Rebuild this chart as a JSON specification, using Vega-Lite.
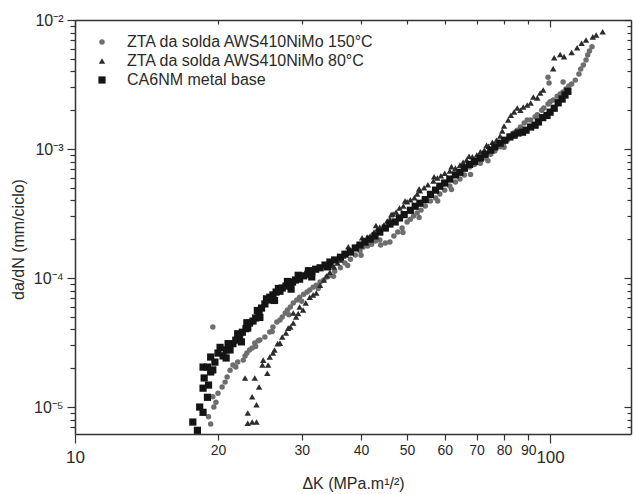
{
"$schema": "https://vega.github.io/schema/vega-lite/v6.json",
"width": 556, "height": 414,
"autosize": {"type": "none"},
"padding": {"left": 75, "top": 20, "right": 2, "bottom": 60},
"background": "white",
"config": {"font": "Liberation Sans", "view": {"stroke": null},
  "axis": {"grid": false, "domainColor": "#333333", "domainWidth": 1.5, "tickColor": "#333333", "tickWidth": 1.2, "labelColor": "#2a2a2a", "titleColor": "#2a2a2a", "labelFont": "Liberation Sans", "titleFont": "Liberation Sans", "titleFontWeight": "normal"},
  "legend": {"labelFont": "Liberation Sans", "labelColor": "#2a2a2a", "labelLimit": 0}},
"data": {"values": [
{"s":"150","dK":19.5,"dadN":4.17e-5},
{"s":"150","dK":19.1,"dadN":8.4e-6},
{"s":"150","dK":19.3,"dadN":7.4e-6},
{"s":"150","dK":19.6,"dadN":1.0e-5},
{"s":"150","dK":19.8,"dadN":1.09e-5},
{"s":"150","dK":19.5,"dadN":1.2e-5},
{"s":"150","dK":20.0,"dadN":1.28e-5},
{"s":"150","dK":20.4,"dadN":1.43e-5},
{"s":"150","dK":20.7,"dadN":1.56e-5},
{"s":"150","dK":20.9,"dadN":1.71e-5},
{"s":"150","dK":21.2,"dadN":1.93e-5},
{"s":"150","dK":21.5,"dadN":2.12e-5},
{"s":"150","dK":21.8,"dadN":2.04e-5},
{"s":"150","dK":22.0,"dadN":2.23e-5},
{"s":"150","dK":22.6,"dadN":2.31e-5},
{"s":"150","dK":22.8,"dadN":2.49e-5},
{"s":"150","dK":23.0,"dadN":2.62e-5},
{"s":"150","dK":23.3,"dadN":2.77e-5},
{"s":"150","dK":23.6,"dadN":2.87e-5},
{"s":"150","dK":23.9,"dadN":3.14e-5},
{"s":"150","dK":24.3,"dadN":3.26e-5},
{"s":"150","dK":24.5,"dadN":3.31e-5},
{"s":"150","dK":25.1,"dadN":3.49e-5},
{"s":"150","dK":25.7,"dadN":3.81e-5},
{"s":"150","dK":26.1,"dadN":4.17e-5},
{"s":"150","dK":26.6,"dadN":4.56e-5},
{"s":"150","dK":27.0,"dadN":4.72e-5},
{"s":"150","dK":27.3,"dadN":4.98e-5},
{"s":"150","dK":27.7,"dadN":5.35e-5},
{"s":"150","dK":28.0,"dadN":5.65e-5},
{"s":"150","dK":28.4,"dadN":5.96e-5},
{"s":"150","dK":28.8,"dadN":6.4e-5},
{"s":"150","dK":29.3,"dadN":6.75e-5},
{"s":"150","dK":29.7,"dadN":7.1e-5},
{"s":"150","dK":30.3,"dadN":7.5e-5},
{"s":"150","dK":30.8,"dadN":7.8e-5},
{"s":"150","dK":31.2,"dadN":8.07e-5},
{"s":"150","dK":31.7,"dadN":8.5e-5},
{"s":"150","dK":32.2,"dadN":8.8e-5},
{"s":"150","dK":32.8,"dadN":9.3e-5},
{"s":"150","dK":33.4,"dadN":9.65e-5},
{"s":"150","dK":33.9,"dadN":1.02e-4},
{"s":"150","dK":34.4,"dadN":1.05e-4},
{"s":"150","dK":35.2,"dadN":1.13e-4},
{"s":"150","dK":36.2,"dadN":1.2e-4},
{"s":"150","dK":37.0,"dadN":1.31e-4},
{"s":"150","dK":38.0,"dadN":1.40e-4},
{"s":"150","dK":38.9,"dadN":1.51e-4},
{"s":"150","dK":39.8,"dadN":1.62e-4},
{"s":"150","dK":40.4,"dadN":1.74e-4},
{"s":"150","dK":41.3,"dadN":1.77e-4},
{"s":"150","dK":42.1,"dadN":1.83e-4},
{"s":"150","dK":42.9,"dadN":1.94e-4},
{"s":"150","dK":43.8,"dadN":1.97e-4},
{"s":"150","dK":45.0,"dadN":1.87e-4},
{"s":"150","dK":46.0,"dadN":1.90e-4},
{"s":"150","dK":46.9,"dadN":2.12e-4},
{"s":"150","dK":47.8,"dadN":2.27e-4},
{"s":"150","dK":48.8,"dadN":2.44e-4},
{"s":"150","dK":50.0,"dadN":2.72e-4},
{"s":"150","dK":50.8,"dadN":2.86e-4},
{"s":"150","dK":51.6,"dadN":3.02e-4},
{"s":"150","dK":52.5,"dadN":3.19e-4},
{"s":"150","dK":53.5,"dadN":3.36e-4},
{"s":"150","dK":54.6,"dadN":3.61e-4},
{"s":"150","dK":56.0,"dadN":3.95e-4},
{"s":"150","dK":57.4,"dadN":4.17e-4},
{"s":"150","dK":58.6,"dadN":4.48e-4},
{"s":"150","dK":60.0,"dadN":4.8e-4},
{"s":"150","dK":61.5,"dadN":5.16e-4},
{"s":"150","dK":63.2,"dadN":5.55e-4},
{"s":"150","dK":64.6,"dadN":5.86e-4},
{"s":"150","dK":66.0,"dadN":6.3e-4},
{"s":"150","dK":67.7,"dadN":7.25e-4},
{"s":"150","dK":69.3,"dadN":7.6e-4},
{"s":"150","dK":71.3,"dadN":7.77e-4},
{"s":"150","dK":73.0,"dadN":8.5e-4},
{"s":"150","dK":75.0,"dadN":9.1e-4},
{"s":"150","dK":76.5,"dadN":9.65e-4},
{"s":"150","dK":78.5,"dadN":1.04e-3},
{"s":"150","dK":79.7,"dadN":1.11e-3},
{"s":"150","dK":81.3,"dadN":1.17e-3},
{"s":"150","dK":82.3,"dadN":1.26e-3},
{"s":"150","dK":83.8,"dadN":1.33e-3},
{"s":"150","dK":85.3,"dadN":1.40e-3},
{"s":"150","dK":86.6,"dadN":1.48e-3},
{"s":"150","dK":88.2,"dadN":1.59e-3},
{"s":"150","dK":89.5,"dadN":1.68e-3},
{"s":"150","dK":91.0,"dadN":1.68e-3},
{"s":"150","dK":93.0,"dadN":1.78e-3},
{"s":"150","dK":94.0,"dadN":1.84e-3},
{"s":"150","dK":96.0,"dadN":2.0e-3},
{"s":"150","dK":97.0,"dadN":2.08e-3},
{"s":"150","dK":99.0,"dadN":2.23e-3},
{"s":"150","dK":100.0,"dadN":2.32e-3},
{"s":"150","dK":101.5,"dadN":2.4e-3},
{"s":"150","dK":103.5,"dadN":2.57e-3},
{"s":"150","dK":105.0,"dadN":2.67e-3},
{"s":"150","dK":106.5,"dadN":2.77e-3},
{"s":"150","dK":108.0,"dadN":2.92e-3},
{"s":"150","dK":109.5,"dadN":3.08e-3},
{"s":"150","dK":111.0,"dadN":3.19e-3},
{"s":"150","dK":113.0,"dadN":3.42e-3},
{"s":"150","dK":115.0,"dadN":3.81e-3},
{"s":"150","dK":116.0,"dadN":4.17e-3},
{"s":"150","dK":117.5,"dadN":4.48e-3},
{"s":"150","dK":119.0,"dadN":4.9e-3},
{"s":"150","dK":120.0,"dadN":5.35e-3},
{"s":"150","dK":121.0,"dadN":5.75e-3},
{"s":"150","dK":122.5,"dadN":6.2e-3},
{"s":"150","dK":99.0,"dadN":3.6e-3},
{"s":"150","dK":99.5,"dadN":3.25e-3},
{"s":"150","dK":106.5,"dadN":3.31e-3},
{"s":"150","dK":24.0,"dadN":2.95e-5},
{"s":"150","dK":26.0,"dadN":3.85e-5},
{"s":"150","dK":28.2,"dadN":5.2e-5},
{"s":"150","dK":30.0,"dadN":6.6e-5},
{"s":"150","dK":32.5,"dadN":8.3e-5},
{"s":"150","dK":35.0,"dadN":1.03e-4},
{"s":"150","dK":37.5,"dadN":1.25e-4},
{"s":"150","dK":40.0,"dadN":1.5e-4},
{"s":"150","dK":44.0,"dadN":1.8e-4},
{"s":"150","dK":49.0,"dadN":2.25e-4},
{"s":"150","dK":53.0,"dadN":2.95e-4},
{"s":"150","dK":58.0,"dadN":3.95e-4},
{"s":"150","dK":62.0,"dadN":4.85e-4},
{"s":"150","dK":68.0,"dadN":6.35e-4},
{"s":"150","dK":74.0,"dadN":8.1e-4},
{"s":"150","dK":80.0,"dadN":1.03e-3},
{"s":"150","dK":87.0,"dadN":1.34e-3},
{"s":"150","dK":95.0,"dadN":1.75e-3},
{"s":"150","dK":104.0,"dadN":2.35e-3},
{"s":"80","dK":23.1,"dadN":7.5e-6},
{"s":"80","dK":23.6,"dadN":7.65e-6},
{"s":"80","dK":24.1,"dadN":7.65e-6},
{"s":"80","dK":23.1,"dadN":9.0e-6},
{"s":"80","dK":24.1,"dadN":1.04e-5},
{"s":"80","dK":23.6,"dadN":1.2e-5},
{"s":"80","dK":22.8,"dadN":1.68e-5},
{"s":"80","dK":23.9,"dadN":1.68e-5},
{"s":"80","dK":24.4,"dadN":1.43e-5},
{"s":"80","dK":24.9,"dadN":2.31e-5},
{"s":"80","dK":24.8,"dadN":2.12e-5},
{"s":"80","dK":25.4,"dadN":1.83e-5},
{"s":"80","dK":25.5,"dadN":2.12e-5},
{"s":"80","dK":25.7,"dadN":2.44e-5},
{"s":"80","dK":26.1,"dadN":2.62e-5},
{"s":"80","dK":26.3,"dadN":2.77e-5},
{"s":"80","dK":26.7,"dadN":3.1e-5},
{"s":"80","dK":27.0,"dadN":3.13e-5},
{"s":"80","dK":27.3,"dadN":3.49e-5},
{"s":"80","dK":27.8,"dadN":3.75e-5},
{"s":"80","dK":28.1,"dadN":4.09e-5},
{"s":"80","dK":28.4,"dadN":4.17e-5},
{"s":"80","dK":28.8,"dadN":4.48e-5},
{"s":"80","dK":28.8,"dadN":5.35e-5},
{"s":"80","dK":29.2,"dadN":4.98e-5},
{"s":"80","dK":29.5,"dadN":5.3e-5},
{"s":"80","dK":29.7,"dadN":5.96e-5},
{"s":"80","dK":30.2,"dadN":5.65e-5},
{"s":"80","dK":30.6,"dadN":6.4e-5},
{"s":"80","dK":31.2,"dadN":7.1e-5},
{"s":"80","dK":31.7,"dadN":7.4e-5},
{"s":"80","dK":32.2,"dadN":7.65e-5},
{"s":"80","dK":32.8,"dadN":8.8e-5},
{"s":"80","dK":33.4,"dadN":9.65e-5},
{"s":"80","dK":33.9,"dadN":1.04e-4},
{"s":"80","dK":34.4,"dadN":1.11e-4},
{"s":"80","dK":35.1,"dadN":1.22e-4},
{"s":"80","dK":35.7,"dadN":1.31e-4},
{"s":"80","dK":36.2,"dadN":1.38e-4},
{"s":"80","dK":36.7,"dadN":1.48e-4},
{"s":"80","dK":37.2,"dadN":1.56e-4},
{"s":"80","dK":38.0,"dadN":1.65e-4},
{"s":"80","dK":38.7,"dadN":1.71e-4},
{"s":"80","dK":39.3,"dadN":1.8e-4},
{"s":"80","dK":39.8,"dadN":1.83e-4},
{"s":"80","dK":40.6,"dadN":1.97e-4},
{"s":"80","dK":41.2,"dadN":2.08e-4},
{"s":"80","dK":41.8,"dadN":2.12e-4},
{"s":"80","dK":42.6,"dadN":2.27e-4},
{"s":"80","dK":43.3,"dadN":2.4e-4},
{"s":"80","dK":43.8,"dadN":2.48e-4},
{"s":"80","dK":44.7,"dadN":2.58e-4},
{"s":"80","dK":45.4,"dadN":2.77e-4},
{"s":"80","dK":46.0,"dadN":2.86e-4},
{"s":"80","dK":46.7,"dadN":3.13e-4},
{"s":"80","dK":47.4,"dadN":3.25e-4},
{"s":"80","dK":48.2,"dadN":3.49e-4},
{"s":"80","dK":49.1,"dadN":3.62e-4},
{"s":"80","dK":50.0,"dadN":3.9e-4},
{"s":"80","dK":50.8,"dadN":4.05e-4},
{"s":"80","dK":51.8,"dadN":4.2e-4},
{"s":"80","dK":52.5,"dadN":4.48e-4},
{"s":"80","dK":53.2,"dadN":4.74e-4},
{"s":"80","dK":54.3,"dadN":5.0e-4},
{"s":"80","dK":55.3,"dadN":5.28e-4},
{"s":"80","dK":56.8,"dadN":5.65e-4},
{"s":"80","dK":57.9,"dadN":5.96e-4},
{"s":"80","dK":58.9,"dadN":6.2e-4},
{"s":"80","dK":60.0,"dadN":6.5e-4},
{"s":"80","dK":61.5,"dadN":6.75e-4},
{"s":"80","dK":63.2,"dadN":7.11e-4},
{"s":"80","dK":64.6,"dadN":7.5e-4},
{"s":"80","dK":65.6,"dadN":7.9e-4},
{"s":"80","dK":66.7,"dadN":8.22e-4},
{"s":"80","dK":68.6,"dadN":8.7e-4},
{"s":"80","dK":70.1,"dadN":9.0e-4},
{"s":"80","dK":71.3,"dadN":9.5e-4},
{"s":"80","dK":72.7,"dadN":9.82e-4},
{"s":"80","dK":74.2,"dadN":1.05e-3},
{"s":"80","dK":75.6,"dadN":1.13e-3},
{"s":"80","dK":77.1,"dadN":1.17e-3},
{"s":"80","dK":78.5,"dadN":1.26e-3},
{"s":"80","dK":79.3,"dadN":1.38e-3},
{"s":"80","dK":80.0,"dadN":1.51e-3},
{"s":"80","dK":81.6,"dadN":1.68e-3},
{"s":"80","dK":82.7,"dadN":1.83e-3},
{"s":"80","dK":84.0,"dadN":1.94e-3},
{"s":"80","dK":85.3,"dadN":2.08e-3},
{"s":"80","dK":86.6,"dadN":2.0e-3},
{"s":"80","dK":87.8,"dadN":2.12e-3},
{"s":"80","dK":89.5,"dadN":2.19e-3},
{"s":"80","dK":91.0,"dadN":2.27e-3},
{"s":"80","dK":92.2,"dadN":2.53e-3},
{"s":"80","dK":94.0,"dadN":2.49e-3},
{"s":"80","dK":95.3,"dadN":2.72e-3},
{"s":"80","dK":96.7,"dadN":2.87e-3},
{"s":"80","dK":101.5,"dadN":4.2e-3},
{"s":"80","dK":102.0,"dadN":5.1e-3},
{"s":"80","dK":105.0,"dadN":5.4e-3},
{"s":"80","dK":107.0,"dadN":5.2e-3},
{"s":"80","dK":111.0,"dadN":5.6e-3},
{"s":"80","dK":114.0,"dadN":6.1e-3},
{"s":"80","dK":116.5,"dadN":6.6e-3},
{"s":"80","dK":119.0,"dadN":7.0e-3},
{"s":"80","dK":123.0,"dadN":7.4e-3},
{"s":"80","dK":125.0,"dadN":7.65e-3},
{"s":"80","dK":129.0,"dadN":8.1e-3},
{"s":"80","dK":34.8,"dadN":1.25e-4},
{"s":"80","dK":37.6,"dadN":1.75e-4},
{"s":"80","dK":40.2,"dadN":2.05e-4},
{"s":"80","dK":43.0,"dadN":2.55e-4},
{"s":"80","dK":46.3,"dadN":3.1e-4},
{"s":"80","dK":49.5,"dadN":3.95e-4},
{"s":"80","dK":53.0,"dadN":4.9e-4},
{"s":"80","dK":57.0,"dadN":6.1e-4},
{"s":"80","dK":62.0,"dadN":7.3e-4},
{"s":"80","dK":67.5,"dadN":8.8e-4},
{"s":"80","dK":73.5,"dadN":1.07e-3},
{"s":"base","dK":17.7,"dadN":7.65e-6},
{"s":"base","dK":18.1,"dadN":6.6e-6},
{"s":"base","dK":18.3,"dadN":1.0e-5},
{"s":"base","dK":18.6,"dadN":9.1e-6},
{"s":"base","dK":19.0,"dadN":1.19e-5},
{"s":"base","dK":18.6,"dadN":1.40e-5},
{"s":"base","dK":19.1,"dadN":1.48e-5},
{"s":"base","dK":18.7,"dadN":1.68e-5},
{"s":"base","dK":19.3,"dadN":1.87e-5},
{"s":"base","dK":18.6,"dadN":2.04e-5},
{"s":"base","dK":19.0,"dadN":2.04e-5},
{"s":"base","dK":19.5,"dadN":1.94e-5},
{"s":"base","dK":19.3,"dadN":2.44e-5},
{"s":"base","dK":19.7,"dadN":2.23e-5},
{"s":"base","dK":20.0,"dadN":2.62e-5},
{"s":"base","dK":20.5,"dadN":2.49e-5},
{"s":"base","dK":20.8,"dadN":2.77e-5},
{"s":"base","dK":21.2,"dadN":2.77e-5},
{"s":"base","dK":21.5,"dadN":3.1e-5},
{"s":"base","dK":21.8,"dadN":3.3e-5},
{"s":"base","dK":22.2,"dadN":3.45e-5},
{"s":"base","dK":22.5,"dadN":3.8e-5},
{"s":"base","dK":22.9,"dadN":4.05e-5},
{"s":"base","dK":23.1,"dadN":4.1e-5},
{"s":"base","dK":23.3,"dadN":4.48e-5},
{"s":"base","dK":23.7,"dadN":4.64e-5},
{"s":"base","dK":24.0,"dadN":4.9e-5},
{"s":"base","dK":24.4,"dadN":5.35e-5},
{"s":"base","dK":24.7,"dadN":5.85e-5},
{"s":"base","dK":25.1,"dadN":6.3e-5},
{"s":"base","dK":25.5,"dadN":6.75e-5},
{"s":"base","dK":25.7,"dadN":7.1e-5},
{"s":"base","dK":26.1,"dadN":7.4e-5},
{"s":"base","dK":26.5,"dadN":7.78e-5},
{"s":"base","dK":27.0,"dadN":7.9e-5},
{"s":"base","dK":27.3,"dadN":8.36e-5},
{"s":"base","dK":27.8,"dadN":8.66e-5},
{"s":"base","dK":28.4,"dadN":8.8e-5},
{"s":"base","dK":28.7,"dadN":9.3e-5},
{"s":"base","dK":29.1,"dadN":9.65e-5},
{"s":"base","dK":29.7,"dadN":9.8e-5},
{"s":"base","dK":30.3,"dadN":1.04e-4},
{"s":"base","dK":30.9,"dadN":1.07e-4},
{"s":"base","dK":31.5,"dadN":1.11e-4},
{"s":"base","dK":32.1,"dadN":1.17e-4},
{"s":"base","dK":32.8,"dadN":1.2e-4},
{"s":"base","dK":33.6,"dadN":1.26e-4},
{"s":"base","dK":34.4,"dadN":1.33e-4},
{"s":"base","dK":35.2,"dadN":1.38e-4},
{"s":"base","dK":36.2,"dadN":1.45e-4},
{"s":"base","dK":37.0,"dadN":1.53e-4},
{"s":"base","dK":38.0,"dadN":1.59e-4},
{"s":"base","dK":38.9,"dadN":1.71e-4},
{"s":"base","dK":39.8,"dadN":1.8e-4},
{"s":"base","dK":40.8,"dadN":1.9e-4},
{"s":"base","dK":41.8,"dadN":2.0e-4},
{"s":"base","dK":42.8,"dadN":2.12e-4},
{"s":"base","dK":43.8,"dadN":2.27e-4},
{"s":"base","dK":45.0,"dadN":2.44e-4},
{"s":"base","dK":46.0,"dadN":2.62e-4},
{"s":"base","dK":47.2,"dadN":2.72e-4},
{"s":"base","dK":48.2,"dadN":2.92e-4},
{"s":"base","dK":49.3,"dadN":3.1e-4},
{"s":"base","dK":50.8,"dadN":3.35e-4},
{"s":"base","dK":52.0,"dadN":3.6e-4},
{"s":"base","dK":53.2,"dadN":3.8e-4},
{"s":"base","dK":54.6,"dadN":4.05e-4},
{"s":"base","dK":56.0,"dadN":4.45e-4},
{"s":"base","dK":57.4,"dadN":4.8e-4},
{"s":"base","dK":58.6,"dadN":5.15e-4},
{"s":"base","dK":60.0,"dadN":5.45e-4},
{"s":"base","dK":61.5,"dadN":5.85e-4},
{"s":"base","dK":63.2,"dadN":6.3e-4},
{"s":"base","dK":64.6,"dadN":6.6e-4},
{"s":"base","dK":66.0,"dadN":7.1e-4},
{"s":"base","dK":67.7,"dadN":7.6e-4},
{"s":"base","dK":69.3,"dadN":8.0e-4},
{"s":"base","dK":71.3,"dadN":8.5e-4},
{"s":"base","dK":73.0,"dadN":9.1e-4},
{"s":"base","dK":75.0,"dadN":9.8e-4},
{"s":"base","dK":76.5,"dadN":1.04e-3},
{"s":"base","dK":78.5,"dadN":1.11e-3},
{"s":"base","dK":80.3,"dadN":1.17e-3},
{"s":"base","dK":82.3,"dadN":1.24e-3},
{"s":"base","dK":84.0,"dadN":1.28e-3},
{"s":"base","dK":85.6,"dadN":1.33e-3},
{"s":"base","dK":87.5,"dadN":1.35e-3},
{"s":"base","dK":89.0,"dadN":1.40e-3},
{"s":"base","dK":91.0,"dadN":1.48e-3},
{"s":"base","dK":93.0,"dadN":1.53e-3},
{"s":"base","dK":94.5,"dadN":1.62e-3},
{"s":"base","dK":96.5,"dadN":1.75e-3},
{"s":"base","dK":98.5,"dadN":1.82e-3},
{"s":"base","dK":100.0,"dadN":1.93e-3},
{"s":"base","dK":102.0,"dadN":2.07e-3},
{"s":"base","dK":104.0,"dadN":2.28e-3},
{"s":"base","dK":106.0,"dadN":2.44e-3},
{"s":"base","dK":107.5,"dadN":2.62e-3},
{"s":"base","dK":109.0,"dadN":2.8e-3},
{"s":"base","dK":20.2,"dadN":2.9e-5},
{"s":"base","dK":21.0,"dadN":3.1e-5},
{"s":"base","dK":22.0,"dadN":3.7e-5},
{"s":"base","dK":23.0,"dadN":4.5e-5},
{"s":"base","dK":24.2,"dadN":5.6e-5},
{"s":"base","dK":25.3,"dadN":6.9e-5},
{"s":"base","dK":26.8,"dadN":8.3e-5},
{"s":"base","dK":28.0,"dadN":9.4e-5},
{"s":"base","dK":29.5,"dadN":1.05e-4},
{"s":"base","dK":31.0,"dadN":1.14e-4},
{"s":"base","dK":20.8,"dadN":2.4e-5},
{"s":"base","dK":22.4,"dadN":3.2e-5},
{"s":"base","dK":24.5,"dadN":4.95e-5},
{"s":"base","dK":26.3,"dadN":6.7e-5},
{"s":"base","dK":28.5,"dadN":8.2e-5},
{"s":"base","dK":31.5,"dadN":1.02e-4},
{"s":"base","dK":34.0,"dadN":1.22e-4}
]},
"resolve": {"axis": {"x": "independent", "y": "independent"}},
"layer": [
 {"mark": {"type": "point", "filled": true, "opacity": 1, "clip": true},
  "encoding": {
   "x": {"field": "dK", "type": "quantitative",
     "scale": {"type": "log", "domain": [10, 148], "nice": false},
     "axis": {"orient": "bottom", "values": [10,20,30,40,50,60,70,80,90,100], "format": "d",
       "labelOverlap": false, "labelBound": false, "labelFlush": false,
       "tickSize": {"condition": {"test": "abs(log(datum.value)/LN10 - round(log(datum.value)/LN10)) < 0.001", "value": 9}, "value": 6},
       "labelFontSize": {"condition": {"test": "abs(log(datum.value)/LN10 - round(log(datum.value)/LN10)) < 0.001", "value": 17}, "value": 14},
       "labelPadding": {"condition": {"test": "abs(log(datum.value)/LN10 - round(log(datum.value)/LN10)) < 0.001", "value": 6}, "value": 3},
       "title": "ΔK (MPa.m¹/²)", "titleFontSize": 16, "titleX": 278, "titleY": 49, "titleBaseline": "middle", "titleAlign": "center"}},
   "y": {"field": "dadN", "type": "quantitative",
     "scale": {"type": "log", "domain": [6.18e-6, 0.01], "nice": false},
     "axis": {"orient": "left",
       "values": [7e-6,8e-6,9e-6,1e-5,2e-5,3e-5,4e-5,5e-5,6e-5,7e-5,8e-5,9e-5,1e-4,2e-4,3e-4,4e-4,5e-4,6e-4,7e-4,8e-4,9e-4,1e-3,2e-3,3e-3,4e-3,5e-3,6e-3,7e-3,8e-3,9e-3,1e-2],
       "labelExpr": "datum.value == 0.01 ? '10⁻²' : datum.value == 0.001 ? '10⁻³' : datum.value == 0.0001 ? '10⁻⁴' : datum.value == 0.00001 ? '10⁻⁵' : ''",
       "labelOverlap": false, "labelBound": false, "labelFlush": false,
       "tickSize": {"condition": {"test": "abs(log(datum.value)/LN10 - round(log(datum.value)/LN10)) < 0.001", "value": 8}, "value": 5},
       "labelFontSize": 16, "labelPadding": 4,
       "title": "da/dN (mm/ciclo)", "titleFontSize": 16, "titleAngle": -90, "titleX": -57, "titleY": 219, "titleBaseline": "middle", "titleAlign": "center"}},
   "color": {"field": "s", "type": "nominal",
     "scale": {"domain": ["150","80","base"], "range": ["#6e6e6e","#2c2c2c","#141414"]},
     "legend": {"orient": "none", "legendX": 19, "legendY": 14, "title": null, "padding": 0, "labelLimit": 0,
       "labelExpr": "datum.value == '150' ? 'ZTA da solda AWS410NiMo 150°C' : datum.value == '80' ? 'ZTA da solda AWS410NiMo 80°C' : 'CA6NM metal base'",
       "labelFontSize": 16, "symbolSize": 28, "labelOffset": 17, "rowPadding": 3, "symbolStrokeWidth": 0}},
   "shape": {"field": "s", "type": "nominal",
     "scale": {"domain": ["150","80","base"], "range": ["circle","triangle-up","square"]},
     "legend": {"orient": "none", "legendX": 19, "legendY": 14, "title": null, "padding": 0, "labelLimit": 0,
       "labelExpr": "datum.value == '150' ? 'ZTA da solda AWS410NiMo 150°C' : datum.value == '80' ? 'ZTA da solda AWS410NiMo 80°C' : 'CA6NM metal base'",
       "labelFontSize": 16, "symbolSize": 28, "labelOffset": 17, "rowPadding": 3, "symbolStrokeWidth": 0}},
   "size": {"field": "s", "type": "nominal",
     "scale": {"domain": ["150","80","base"], "range": [30, 52, 40]}, "legend": null}
  }},
 {"mark": {"type": "point", "opacity": 0},
  "encoding": {
   "x": {"field": "dK", "type": "quantitative",
     "axis": {"orient": "top", "values": [10,20,30,40,50,60,70,80,90,100], "labels": false, "title": null,
       "tickSize": {"condition": {"test": "abs(log(datum.value)/LN10 - round(log(datum.value)/LN10)) < 0.001", "value": -7}, "value": -4}}},
   "y": {"field": "dadN", "type": "quantitative",
     "axis": {"orient": "right", "labels": false, "title": null,
       "values": [7e-6,8e-6,9e-6,1e-5,2e-5,3e-5,4e-5,5e-5,6e-5,7e-5,8e-5,9e-5,1e-4,2e-4,3e-4,4e-4,5e-4,6e-4,7e-4,8e-4,9e-4,1e-3,2e-3,3e-3,4e-3,5e-3,6e-3,7e-3,8e-3,9e-3,1e-2],
       "tickSize": {"condition": {"test": "abs(log(datum.value)/LN10 - round(log(datum.value)/LN10)) < 0.001", "value": -7}, "value": -4}}}
  }}
]
}
